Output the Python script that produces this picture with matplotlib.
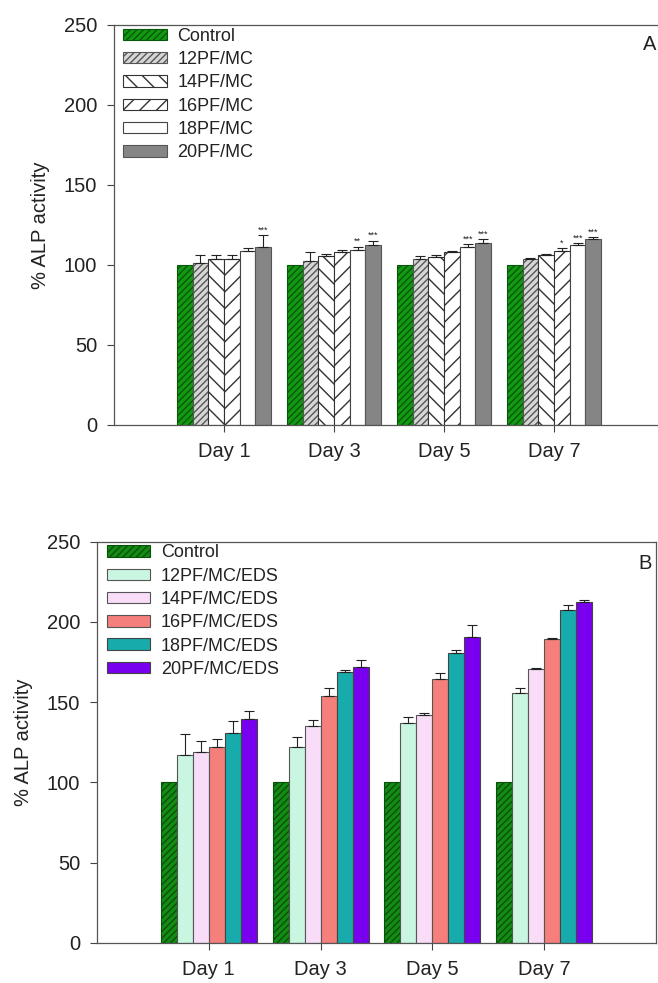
import matplotlib
matplotlib.use("Agg")
import matplotlib.pyplot as plt
import numpy as np

plt.rcParams['font.family'] = ['Liberation Sans', 'DejaVu Sans']
plt.rcParams['hatch.linewidth'] = 1.0

days = ['Day 1', 'Day 3', 'Day 5', 'Day 7']

# ---- panel A : PF/MC ----
labels_a = ['Control', '12PF/MC', '14PF/MC', '16PF/MC', '18PF/MC', '20PF/MC']
ctrl_a = [100, 100, 100, 100]
pf12_a = [101, 102.5, 103.5, 103.5]
pf14_a = [103.5, 105.5, 105, 106]
pf16_a = [103.5, 108, 108, 109]
pf18_a = [108.5, 109.5, 111.5, 112.5]
pf20_a = [111.5, 112.5, 114, 116.3]
ctrl_a_err = [0, 0, 0, 0]
pf12_a_err = [5, 5.5, 2, 1]
pf14_a_err = [3, 1.5, 1, 1]
pf16_a_err = [3, 1.5, 1, 1.5]
pf18_a_err = [2, 2, 1.5, 1]
pf20_a_err = [7, 2.5, 2, 1]
stars16_a = ['', '', '', '*']
stars18_a = ['', '**', '***', '***']
stars20_a = ['***', '***', '***', '***']

# ---- panel B : PF/MC/EDS ----
labels_b = ['Control', '12PF/MC/EDS', '14PF/MC/EDS', '16PF/MC/EDS', '18PF/MC/EDS', '20PF/MC/EDS']
ctrl_b = [100, 100, 100, 100]
pf12_b = [117, 122, 137, 155.5]
pf14_b = [119, 135, 142, 170.5]
pf16_b = [122, 154, 164.5, 189.5]
pf18_b = [131, 169, 180.5, 207.5]
pf20_b = [139.5, 172, 190.5, 212.5]
ctrl_b_err = [0, 0, 0, 0]
pf12_b_err = [13, 6, 4, 3.5]
pf14_b_err = [7, 4, 1, 0.5]
pf16_b_err = [5, 5, 3.5, 0.5]
pf18_b_err = [7, 1, 2, 3]
pf20_b_err = [5, 4, 7.5, 1]


def draw(ax, means, errs, labels, fills, hatches, edges):
    x = np.arange(1, 5)
    w = 0.143
    pos_all = []
    for i in range(6):
        pos = x + (i - 2.5) * w
        pos_all.append(pos)
        ax.bar(pos, means[i], w, color=fills[i], hatch=hatches[i],
               edgecolor=edges[i], linewidth=0.8, label=labels[i], zorder=2)
        if max(errs[i]) > 0:
            ax.errorbar(pos, means[i], yerr=[np.zeros(4), errs[i]], fmt='none',
                        ecolor='#222222', elinewidth=0.8, capsize=3.5,
                        capthick=0.8, zorder=3)
    ax.set_xlim(0, 5)
    ax.set_ylim(0, 250)
    ax.set_xticks(x)
    ax.set_xticklabels(days)
    ax.set_yticks(np.arange(0, 251, 50))
    ax.tick_params(direction='out', length=5, width=0.8, labelsize=14.5,
                   pad=7, colors='#444444', labelcolor='#222222')
    ax.set_ylabel('% ALP activity', fontsize=14.5, color='#222222', labelpad=10)
    for s in ax.spines.values():
        s.set_color('#555555')
        s.set_linewidth(0.9)
    leg = ax.legend(loc='upper left', frameon=False, fontsize=13,
                    handlelength=2.4, handleheight=0.6, handletextpad=0.6,
                    labelspacing=0.35, borderpad=0, borderaxespad=0,
                    bbox_to_anchor=(0.017, 0.993))
    for t in leg.get_texts():
        t.set_color('#222222')
    return pos_all


fig = plt.figure(figsize=(6.58, 9.83), dpi=100)

axA = fig.add_axes([114 / 658, 1 - 425 / 983, 550 / 658, 400 / 983])
pos = draw(axA,
           [ctrl_a, pf12_a, pf14_a, pf16_a, pf18_a, pf20_a],
           [ctrl_a_err, pf12_a_err, pf14_a_err, pf16_a_err, pf18_a_err, pf20_a_err],
           labels_a,
           ['#119a11', '#d6d6d6', 'white', 'white', 'white', '#858585'],
           ['/////', '/////', '\\\\', '//', '', ''],
           ['#0a560a', '#555555', '#333333', '#333333', '#444444', '#555555'])
for idx, means, errs, stars in [(3, pf16_a, pf16_a_err, stars16_a),
                                (4, pf18_a, pf18_a_err, stars18_a),
                                (5, pf20_a, pf20_a_err, stars20_a)]:
    for j in range(4):
        if stars[j]:
            axA.text(pos[idx][j], means[j] + errs[j] + 0.5, stars[j],
                     ha='center', va='bottom', fontsize=6.5, color='#222222')
axA.text(0.962, 0.95, 'A', transform=axA.transAxes, fontsize=14.5,
         ha='left', va='center', color='#222222')

axB = fig.add_axes([97 / 658, 1 - 943 / 983, 559 / 658, 401.5 / 983])
draw(axB,
     [ctrl_b, pf12_b, pf14_b, pf16_b, pf18_b, pf20_b],
     [ctrl_b_err, pf12_b_err, pf14_b_err, pf16_b_err, pf18_b_err, pf20_b_err],
     labels_b,
     ['#138c13', '#c8f6e0', '#f9dcf8', '#f47f7b', '#17abab', '#7800ee'],
     ['/////', '', '', '', '', ''],
     ['#0a500a', '#555555', '#555555', '#555555', '#444444', '#444444'])
axB.text(0.968, 0.946, 'B', transform=axB.transAxes, fontsize=14.5,
         ha='left', va='center', color='#222222')

fig.savefig('out.png', dpi=100)
